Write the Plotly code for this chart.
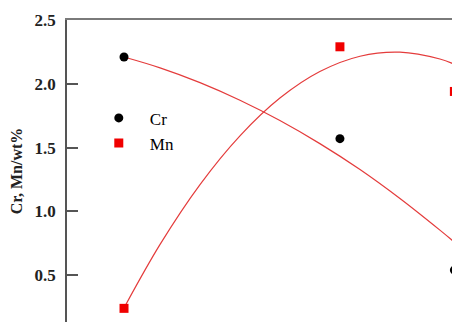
import plotly.graph_objects as go

# measured points
x_pts = [1.0, 2.0, 2.53]
cr_vals = [2.21, 1.57, 0.54]
mn_vals = [0.24, 2.29, 1.94]

# fitted curves
x_fit = [1.0, 1.167, 1.352, 1.537, 1.722, 1.907, 2.093, 2.278, 2.463, 2.53]
cr_fit = [2.210, 2.125, 2.009, 1.871, 1.712, 1.531, 1.328, 1.101, 0.853, 0.759]
mn_fit = [0.243, 0.741, 1.210, 1.592, 1.888, 2.096, 2.216, 2.248, 2.194, 2.153]

y_ticks = [0.5, 1.0, 1.5, 2.0, 2.5]
y_tick_text = ["0.5", "1.0", "1.5", "2.0", "2.5"]

serif = "Liberation Serif, Times New Roman, serif"
curve_color = "rgb(228,60,60)"

fig = go.Figure()
fig.add_trace(go.Scatter(x=x_fit, y=cr_fit, mode="lines",
                         line=dict(color=curve_color, width=1.2, shape="spline"),
                         showlegend=False, hoverinfo="skip"))
fig.add_trace(go.Scatter(x=x_fit, y=mn_fit, mode="lines",
                         line=dict(color=curve_color, width=1.2, shape="spline"),
                         showlegend=False, hoverinfo="skip"))
fig.add_trace(go.Scatter(x=x_pts, y=cr_vals, mode="markers", name="Cr",
                         marker=dict(symbol="circle", size=9, color="black")))
fig.add_trace(go.Scatter(x=x_pts, y=mn_vals, mode="markers", name="Mn",
                         marker=dict(symbol="square", size=9, color="rgb(240,0,0)")))

fig.update_layout(
    width=452, height=322,
    margin=dict(l=67, r=0, t=20, b=0),
    paper_bgcolor="white", plot_bgcolor="white",
    font=dict(family=serif, color="black"),
    legend=dict(x=0.054, y=0.734, xanchor="left", yanchor="top",
                bgcolor="rgba(0,0,0,0)", itemwidth=52,
                font=dict(family=serif, size=17, color="black")),
    xaxis=dict(range=[0.736, 2.519], side="top", showline=True,
               linecolor="#7a7a7a", linewidth=1.5, showgrid=False,
               zeroline=False, ticks="", showticklabels=False),
    yaxis=dict(range=[0.133, 2.5], tickvals=y_ticks, ticktext=y_tick_text,
               ticks="inside", ticklen=11, tickcolor="#555", tickwidth=1.5,
               showline=True, linecolor="#555", linewidth=1.5,
               showgrid=False, zeroline=False, ticklabelstandoff=6,
               tickfont=dict(family=serif, size=17, color="#222", weight="bold"),
               title=dict(text="<b>Cr, Mn/wt%</b>", standoff=8,
                          font=dict(family=serif, size=16, color="#222"))),
)

fig.write_html("out.html")
